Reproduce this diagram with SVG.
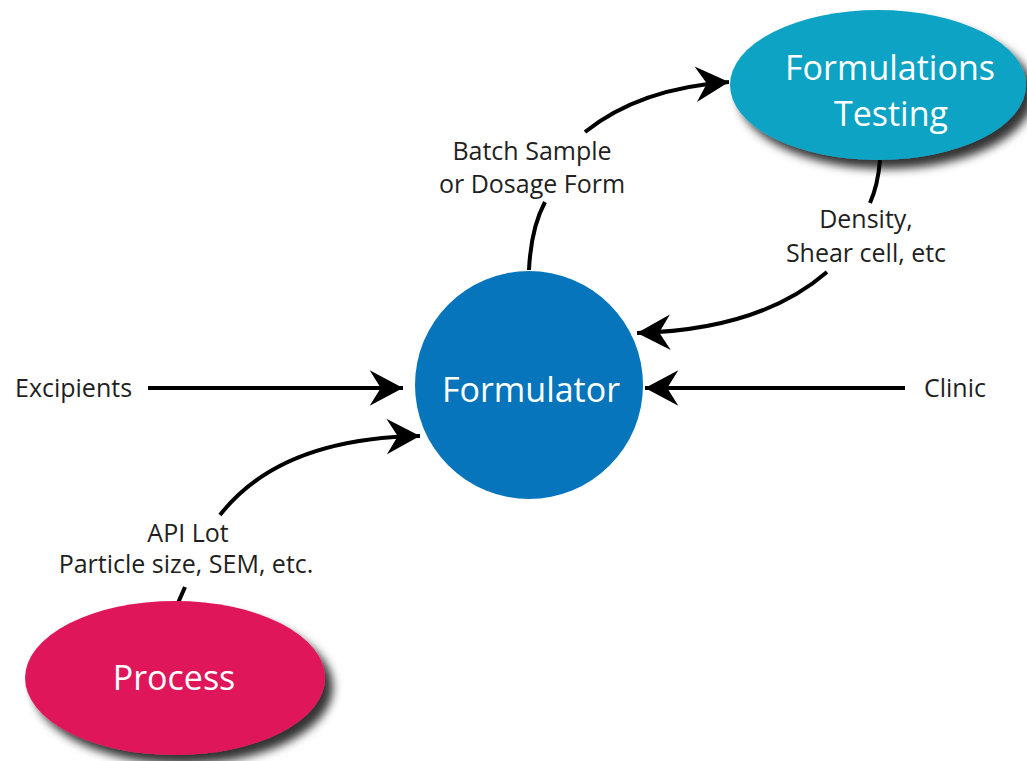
<svg xmlns="http://www.w3.org/2000/svg" width="1027" height="761" viewBox="0 0 1027 761">
  <style>
    .node-label { font-family: "Open Sans", "Noto Sans", sans-serif; fill: #ffffff; text-anchor: middle; }
    .edge-label { font-family: "Open Sans", "Noto Sans", sans-serif; font-size: 25px; fill: #231f20; text-anchor: middle; }
    .edge { fill: none; stroke: #000000; stroke-width: 4; stroke-linecap: butt; }
  </style>
  <defs>
    <filter id="shadow" x="-20%" y="-20%" width="150%" height="150%">
      <feDropShadow dx="8" dy="9" stdDeviation="5" flood-color="#000000" flood-opacity="0.8"/>
    </filter>
    <marker id="arrow" markerUnits="userSpaceOnUse" markerWidth="40" markerHeight="40" viewBox="-32 -18 34 36" refX="0" refY="0" orient="auto">
      <path d="M0,0 L-30,-16 L-20,0 L-30,16 Z" fill="#000000"/>
    </marker>
  </defs>
  <rect width="1027" height="761" fill="#ffffff"/>

  <g id="connectors">
    <line class="edge" x1="148" y1="388" x2="403" y2="388" marker-end="url(#arrow)"/>
    <line class="edge" x1="905" y1="388" x2="645" y2="388" marker-end="url(#arrow)"/>
    <path class="edge" d="M220,515 Q280,438 420,436" marker-end="url(#arrow)"/>
    <path class="edge" d="M185,587 L178,603"/>
    <path class="edge" d="M529,270 Q531,228 545,202"/>
    <path class="edge" d="M585,132 Q640,88 729,82" marker-end="url(#arrow)"/>
    <path class="edge" d="M880,160 Q878,185 870,203"/>
    <path class="edge" d="M827,272 Q760,330 637,333" marker-end="url(#arrow)"/>
  </g>

  <g id="node-formulator">
    <circle cx="529" cy="385" r="114" fill="#0775bb"/>
    <text class="node-label" x="531" y="402" font-size="34">Formulator</text>
  </g>

  <g id="node-formulations-testing">
    <ellipse cx="878" cy="85" rx="148" ry="75" fill="#0aa3c4" filter="url(#shadow)"/>
    <text class="node-label" x="890" y="80" font-size="34">Formulations</text>
    <text class="node-label" x="891" y="126" font-size="34">Testing</text>
  </g>

  <g id="node-process">
    <ellipse cx="175" cy="678" rx="150" ry="77" fill="#e0195a" filter="url(#shadow)"/>
    <text class="node-label" x="174" y="690" font-size="34">Process</text>
  </g>

  <g id="labels">
    <text class="edge-label" x="532" y="160">Batch Sample</text>
    <text class="edge-label" x="532" y="193">or Dosage Form</text>
    <text class="edge-label" x="866" y="228">Density,</text>
    <text class="edge-label" x="866" y="262">Shear cell, etc</text>
    <text class="edge-label" x="15" y="397" style="text-anchor:start">Excipients</text>
    <text class="edge-label" x="986" y="397" style="text-anchor:end">Clinic</text>
    <text class="edge-label" x="188" y="542">API Lot</text>
    <text class="edge-label" x="186" y="573">Particle size, SEM, etc.</text>
  </g>
</svg>
